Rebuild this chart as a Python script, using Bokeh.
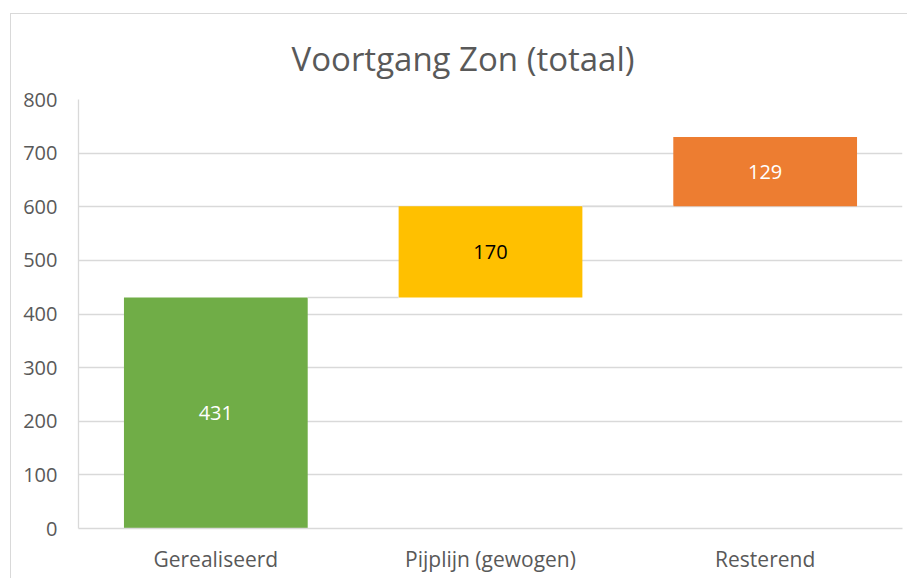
from bokeh.plotting import figure
from bokeh.models import Range1d, FixedTicker, ColumnDataSource, LabelSet
from bokeh.core.properties import value
from bokeh.embed import file_html
from bokeh.resources import INLINE

categories = ["Gerealiseerd", "Pijplijn (gewogen)", "Resterend"]
values = [431, 170, 129]
colors = ["#70AD47", "#FFC000", "#ED7D31"]
label_colors = ["#FFFFFF", "#000000", "#FFFFFF"]
y_ticks = [0, 100, 200, 300, 400, 500, 600, 700, 800]
title_text = "Voortgang Zon (totaal)"

FONT = "Open Sans"
GRAY = "#595959"
GRID = "#D9D9D9"
BW = 0.669

xs = [i + 0.5 for i in range(len(categories))]
bottoms = []
acc = 0
for v in values:
    bottoms.append(acc)
    acc += v
tops = [b + v for b, v in zip(bottoms, values)]
mids = [(b + t) / 2 for b, t in zip(bottoms, tops)]

src = ColumnDataSource(dict(x=xs, bottom=bottoms, top=tops, mid=mids, color=colors,
                            lc=label_colors, txt=[str(v) for v in values]))

W, H = 897, 565
p = figure(width=W, height=H, output_backend="svg", toolbar_location=None,
           x_range=Range1d(0, 3), y_range=Range1d(0, 800),
           min_border_left=67, min_border_right=6, min_border_top=85, min_border_bottom=51)
p.margin = (13, 0, 0, 10)
p.styles = {"border-left": "1px solid #D9D9D9", "border-top": "1px solid #D9D9D9"}
p.background_fill_color = "white"
p.border_fill_color = "white"
p.outline_line_color = None

p.title.text = title_text
p.title.align = "left"
p.title.offset = 213
p.title.text_font = FONT
p.title.text_font_size = "33px"
p.title.text_font_style = "normal"
p.title.text_color = GRAY
p.title.standoff = 38

p.vbar(x="x", bottom="bottom", top="top", width=BW, color="color", source=src, line_color=None)

# connectors
cx0 = [xs[i] + BW / 2 for i in range(len(xs) - 1)]
cx1 = [xs[i + 1] - BW / 2 for i in range(len(xs) - 1)]
cy = [tops[i] for i in range(len(xs) - 1)]
p.segment(x0=cx0, x1=cx1, y0=cy, y1=cy, line_color=GRID, line_width=1.5)

p.add_layout(LabelSet(x="x", y="mid", text="txt", source=src, text_color="lc",
                      text_align="center", text_baseline="middle",
                      text_font=value(FONT), text_font_size=value("20px")))

p.xaxis.ticker = FixedTicker(ticks=xs)
p.xaxis.major_label_overrides = {x: c for x, c in zip(xs, categories)}
p.yaxis.ticker = FixedTicker(ticks=y_ticks)
for ax in (p.xaxis, p.yaxis):
    ax.axis_line_color = GRID
    ax.axis_line_width = 1.3
    ax.major_tick_line_color = None
    ax.minor_tick_line_color = None
    ax.major_label_text_font = FONT
    ax.major_label_text_color = GRAY
p.yaxis.major_label_text_font_size = "20px"
p.xaxis.major_label_text_font_size = "21px"
p.yaxis.major_label_standoff = 15
p.xaxis.major_label_standoff = 10

p.xgrid.grid_line_color = None
p.ygrid.grid_line_color = GRID
p.ygrid.grid_line_width = 1.3
p.ygrid.ticker = FixedTicker(ticks=y_ticks)

open("out.html", "w").write(file_html(p, INLINE))
